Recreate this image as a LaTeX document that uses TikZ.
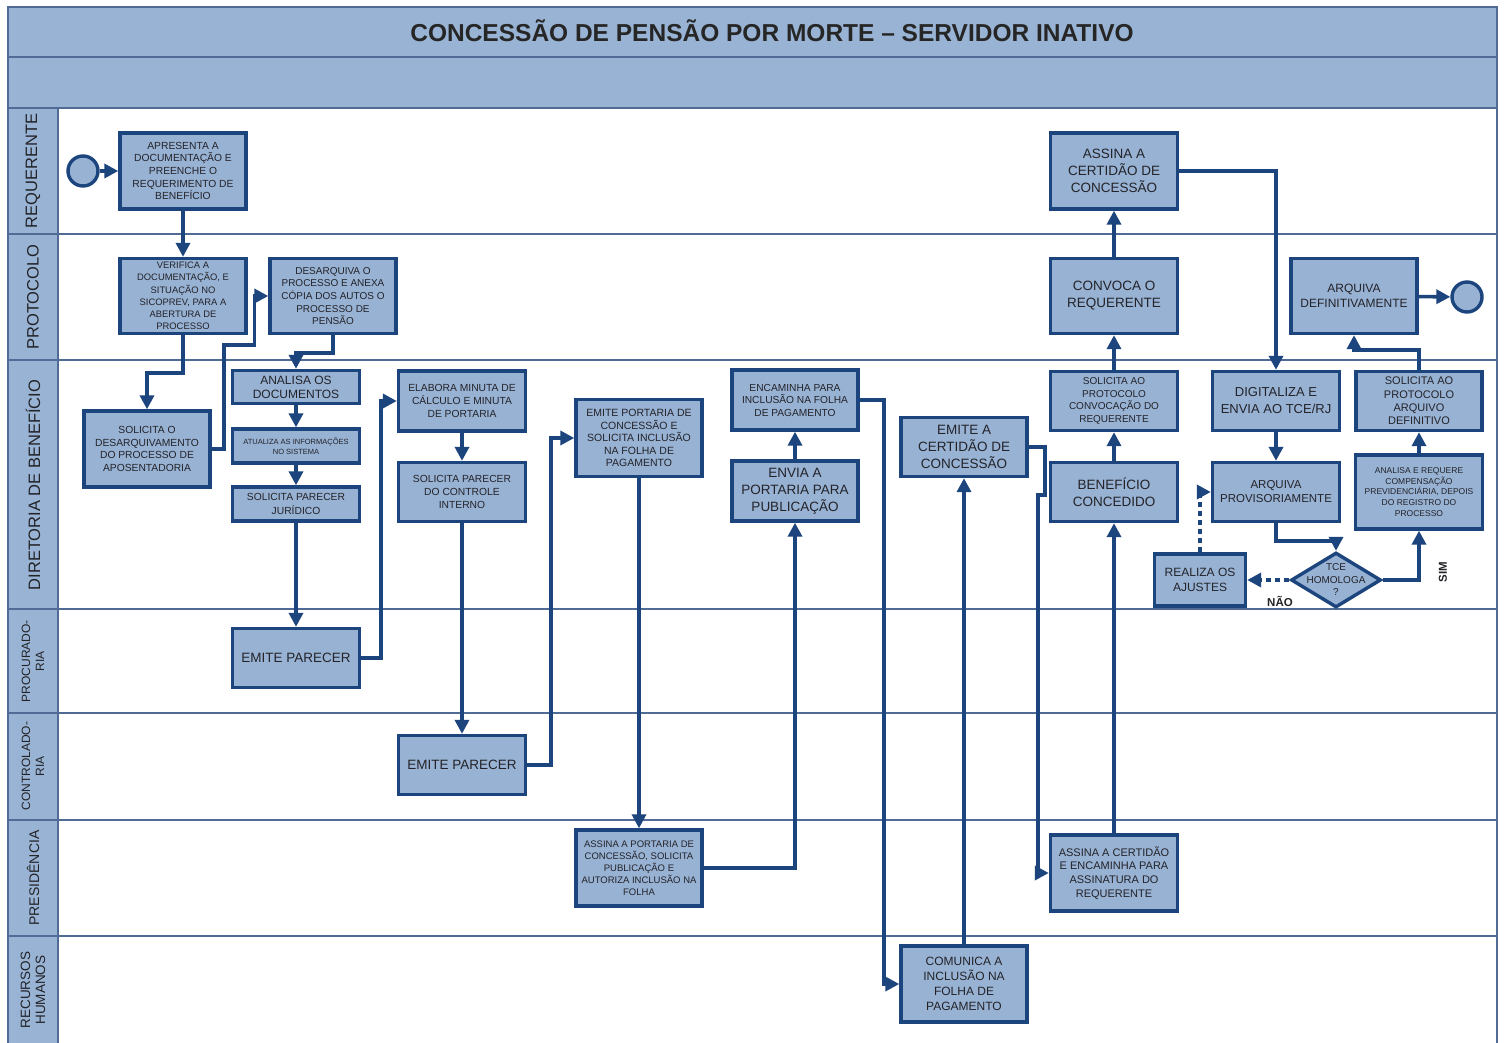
\documentclass[tikz,border=0pt]{standalone}
\usepackage{fontspec}
\setmainfont{Liberation Sans}
\usetikzlibrary{arrows.meta,shapes.geometric,calc}
\definecolor{hdr}{RGB}{152,179,211}
\definecolor{boxfill}{RGB}{152,178,212}
\definecolor{boxline}{RGB}{28,68,125}
\definecolor{laneline}{RGB}{80,108,150}
\definecolor{txt}{RGB}{35,35,40}
\newcommand\myfs[2]{\fontsize{#1}{#2}\selectfont}
\tikzset{
  box/.style={draw=boxline, fill=boxfill, line width=3.4pt, align=center, inner sep=1pt, text=txt},
  sz/.style 2 args={minimum width=#1pt, minimum height=#2pt},
  flow/.style={draw=boxline, line width=3.6pt, -{Triangle[length=14pt,width=14pt]}},
  dflow/.style={flow, dash pattern=on 5pt off 4pt},
  lanelbl/.style={rotate=90, align=center, text=txt, font=\myfs{16.5}{18}},
  lane/.style={draw=laneline, line width=1.7pt},
  evt/.style={circle, draw=boxline, fill=boxfill, line width=3.4pt, minimum size=30pt, inner sep=0pt},
  dia/.style={diamond, draw=boxline, fill=boxfill, line width=3.4pt, minimum width=90pt, minimum height=55pt, inner sep=0pt},
  tag/.style={font=\bfseries\myfs{11.5}{13}, text=txt}
}
\begin{document}
\begin{tikzpicture}[x=1pt,y=-1pt]
\useasboundingbox (0,0) rectangle (1506,1043);
\clip (0,0) rectangle (1506,1043);
\fill[white] (0,0) rectangle (1506,1043);
% pool and lanes
\fill[hdr] (8,7) rectangle (1497,108);
\fill[hdr] (8,108) rectangle (58,1050);
\draw[lane] (8,57) -- (1497,57);
\foreach \yy in {108,234,360,609,713,820,936} \draw[lane] (8,\yy) -- (1497,\yy);
\draw[lane] (58,108) -- (58,1050);
\draw[lane, line width=1.8pt] (8,7) rectangle (1497,1050);
\node[font=\bfseries\myfs{24.5}{28}, text=black!85] (title) at (772,31) {CONCESSÃO DE PENSÃO POR MORTE – SERVIDOR INATIVO};
\node[lanelbl] (l1) at (33,171) {REQUERENTE};
\node[lanelbl] (l2) at (33,297) {PROTOCOLO};
\node[lanelbl] (l3) at (33,485) {DIRETORIA DE BENEFÍCIO};
\node[lanelbl, font=\myfs{12}{14}] (l4) at (33,661) {PROCURADO-\\RIA};
\node[lanelbl, font=\myfs{12}{14}] (l5) at (33,766) {CONTROLADO-\\RIA};
\node[lanelbl, font=\myfs{14}{16}] (l6) at (33,878) {PRESIDÊNCIA};
\node[lanelbl, font=\myfs{13.5}{15}] (l7) at (33,990) {RECURSOS\\HUMANOS};
% events
\node[evt] (st) at (83,171) {};
\node[evt] (en) at (1467,297) {};
% tasks
\node[box, sz={126}{76}, font=\myfs{10.3}{12.7}] (A) at (183,171) {APRESENTA A\\DOCUMENTAÇÃO E\\PREENCHE O\\REQUERIMENTO DE\\BENEFÍCIO};
\node[box, sz={126}{75}, font=\myfs{9.4}{12.3}] (B) at (183,296) {VERIFICA A\\DOCUMENTAÇÃO, E\\SITUAÇÃO NO\\SICOPREV, PARA A\\ABERTURA DE\\PROCESSO};
\node[box, sz={126}{75}, font=\myfs{10}{12.6}] (C) at (333,296) {DESARQUIVA O\\PROCESSO E ANEXA\\CÓPIA DOS AUTOS O\\PROCESSO DE\\PENSÃO};
\node[box, sz={126}{76}, font=\myfs{10.3}{12.7}] (D) at (147,449) {SOLICITA O\\DESARQUIVAMENTO\\DO PROCESSO DE\\APOSENTADORIA};
\node[box, sz={127}{33}, font=\myfs{12}{14}] (E) at (296,387) {ANALISA OS\\DOCUMENTOS};
\node[box, sz={127}{34}, font=\myfs{7.5}{10}] (F) at (296,446) {ATUALIZA AS INFORMAÇÕES\\NO SISTEMA};
\node[box, sz={127}{34}, font=\myfs{10.3}{13.3}] (G) at (296,504) {SOLICITA PARECER\\JURÍDICO};
\node[box, sz={127}{59}, font=\myfs{13.5}{16}] (H) at (296,658) {EMITE PARECER};
\node[box, sz={127}{60}, font=\myfs{10.3}{13}] (I) at (462,401) {ELABORA MINUTA DE\\CÁLCULO E MINUTA\\DE PORTARIA};
\node[box, sz={127}{59}, font=\myfs{10.3}{12.7}] (J) at (462,492) {SOLICITA PARECER\\DO CONTROLE\\INTERNO};
\node[box, sz={127}{59}, font=\myfs{13.5}{16}] (K) at (462,765) {EMITE PARECER};
\node[box, sz={126}{77}, font=\myfs{10.5}{12.6}] (L) at (639,438) {EMITE PORTARIA DE\\CONCESSÃO E\\SOLICITA INCLUSÃO\\NA FOLHA DE\\PAGAMENTO};
\node[box, sz={126}{76}, font=\myfs{9.5}{12}] (M) at (639,868) {ASSINA A PORTARIA DE\\CONCESSÃO, SOLICITA\\PUBLICAÇÃO E\\AUTORIZA INCLUSÃO NA\\FOLHA};
\node[box, sz={126}{60}, font=\myfs{13.5}{17}] (N) at (795,491) {ENVIA A\\PORTARIA PARA\\PUBLICAÇÃO};
\node[box, sz={126}{60}, font=\myfs{10.2}{12.5}] (O) at (795,400) {ENCAMINHA PARA\\INCLUSÃO NA FOLHA\\DE PAGAMENTO};
\node[box, sz={126}{76}, font=\myfs{12}{15}] (P) at (964,984) {COMUNICA A\\INCLUSÃO NA\\FOLHA DE\\PAGAMENTO};
\node[box, sz={126}{59}, font=\myfs{13.5}{17}] (Q) at (964,447) {EMITE A\\CERTIDÃO DE\\CONCESSÃO};
\node[box, sz={127}{76}, font=\myfs{11}{13.7}] (R) at (1114,873) {ASSINA A CERTIDÃO\\E ENCAMINHA PARA\\ASSINATURA DO\\REQUERENTE};
\node[box, sz={127}{59}, font=\myfs{13.5}{17.5}] (S) at (1114,492) {BENEFÍCIO\\CONCEDIDO};
\node[box, sz={127}{59}, font=\myfs{10}{12.7}] (T) at (1114,401) {SOLICITA AO\\PROTOCOLO\\CONVOCAÇÃO DO\\REQUERENTE};
\node[box, sz={127}{75}, font=\myfs{13.5}{17}] (U) at (1114,296) {CONVOCA O\\REQUERENTE};
\node[box, sz={127}{76}, font=\myfs{13.5}{17}] (V) at (1114,171) {ASSINA A\\CERTIDÃO DE\\CONCESSÃO};
\node[box, sz={127}{59}, font=\myfs{13}{17}] (W) at (1276,401) {DIGITALIZA E\\ENVIA AO TCE/RJ};
\node[box, sz={127}{59}, font=\myfs{11.5}{14}] (X) at (1276,492) {ARQUIVA\\PROVISORIAMENTE};
\node[box, sz={91}{52}, font=\myfs{12}{15}] (Y) at (1200,580) {REALIZA OS\\AJUSTES};
\node[dia, label={[font=\myfs{10}{12.5}, align=center, text=txt]center:TCE\\HOMOLOGA\\?}] (dmd) at (1336,580) {};
\node[box, sz={127}{74}, font=\myfs{8.5}{10.7}] (Z) at (1419,492) {ANALISA E REQUERE\\COMPENSAÇÃO\\PREVIDENCIÁRIA, DEPOIS\\DO REGISTRO DO\\PROCESSO};
\node[box, sz={126}{59}, font=\myfs{11}{13.3}] (AA) at (1419,401) {SOLICITA AO\\PROTOCOLO\\ARQUIVO\\DEFINITIVO};
\node[box, sz={126}{75}, font=\myfs{12}{15}] (AB) at (1354,296) {ARQUIVA\\DEFINITIVAMENTE};
% labels
\node[tag] (nao) at (1280,601) {NÃO};
\node[tag, rotate=90] (sim) at (1443,572) {SIM};
% connectors
\draw[flow] (st) -- (A);
\draw[flow] (A) -- (B);
\draw[flow] (B.south) -- ++(0,38) -| (D.north);
\draw[flow] (D.east) -- ++(12,0) -- ++(0,-104) -| ($(C.west)+(-14,0)$) -- (C.west);
\draw[flow] (C.south) -- ++(0,18) -| (E.north);
\draw[flow] (E) -- (F);
\draw[flow] (F) -- (G);
\draw[flow] (G) -- (H);
\draw[flow] (H.east) -- ++(20,0) |- (I.west);
\draw[flow] (I) -- (J);
\draw[flow] (J) -- (K);
\draw[flow] (K.east) -- ++(24,0) |- (L.west);
\draw[flow] (L) -- (M);
\draw[flow] (M.east) -| (N.south);
\draw[flow] (N) -- (O);
\draw[flow] (O.east) -- ++(24,0) |- (P.west);
\draw[flow] (P) -- (Q);
\draw[flow] (Q.east) -- ++(16,0) -- ++(0,48) -- ++(-7,0) |- (R.west);
\draw[flow] (R) -- (S);
\draw[flow] (S) -- (T);
\draw[flow] (T) -- (U);
\draw[flow] (U) -- (V);
\draw[flow] (V.east) -| (W.north);
\draw[flow] (W) -- (X);
\draw[flow] (X.south) -- ++(0,18) -| (dmd.north);
\draw[dflow] (dmd.west) -- (Y.east);
\draw[dflow] (Y.north) |- (X.west);
\draw[flow] (dmd.east) -| (Z.south);
\draw[flow] (Z) -- (AA);
\draw[flow] (AA.north) -- ++(0,-20) -| (AB.south);
\draw[flow] (AB) -- (en);
\end{tikzpicture}
\end{document}
